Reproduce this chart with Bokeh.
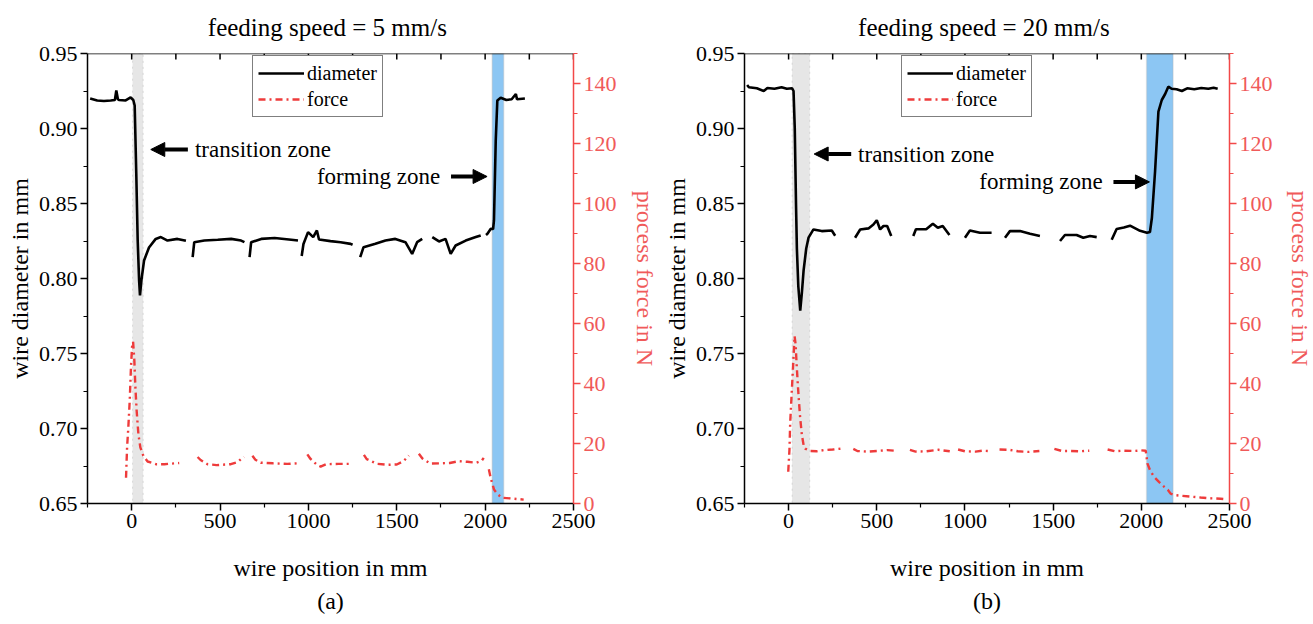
import numpy as np
from bokeh.plotting import figure
from bokeh.models import (Range1d, LinearAxis, FixedTicker, PrintfTickFormatter, Span,
                          BoxAnnotation, Arrow, NormalHead, Label, Legend, LegendItem, Title)
from bokeh.layouts import row
from bokeh.embed import file_html
from bokeh.resources import INLINE

nan = float("nan")

# ---------------- data: feeding speed = 5 mm/s ----------------
pos_d5 = [-235, -195, -157, -119, -95, -87, -78, -72, -34, -6, 9, 17, 26, 34, 42, 47, 55, 70, 98, 136,
          165, 203, 259, 307, nan, 345, 354, 411, 487, 563, 619, 638, nan, 667, 676, 733, 809, 903, 941,
          nan, 962, 972, 998, 1027, 1048, 1060, 1125, 1182, 1239, 1250, nan, 1293, 1312, 1379, 1436, 1492,
          1549, 1587, 1615, 1644, nan, 1701, 1739, 1776, 1805, 1833, 1890, 1947, 1975, nan, 2005, 2013,
          2032, 2045, 2050, 2060, 2069, 2088, 2120, 2150, 2174, 2180, 2225]
dia_5 = [0.9200, 0.9187, 0.9183, 0.9187, 0.9190, 0.9253, 0.9195, 0.9190, 0.9187, 0.9207, 0.9190, 0.9153,
         0.8698, 0.8253, 0.7987, 0.7887, 0.7987, 0.8120, 0.8207, 0.8264, 0.8276, 0.8253, 0.8264, 0.8251,
         nan, 0.8142, 0.8242, 0.8253, 0.8258, 0.8264, 0.8253, 0.8242, nan, 0.8142, 0.8242, 0.8264, 0.8270,
         0.8258, 0.8253, nan, 0.8150, 0.8230, 0.8309, 0.8276, 0.8320, 0.8260, 0.8249, 0.8242, 0.8231,
         0.8225, nan, 0.8142, 0.8209, 0.8231, 0.8253, 0.8264, 0.8242, 0.8164, 0.8242, 0.8264, nan, 0.8276,
         0.8247, 0.8264, 0.8164, 0.8220, 0.8253, 0.8276, 0.8287, nan, 0.8290, 0.8298, 0.8331, 0.8330,
         0.8387, 0.8920, 0.9187, 0.9205, 0.9190, 0.9195, 0.9230, 0.9195, 0.9200]
pos_f5 = [-32, -26, -19, -11, -4, 2, 8, 15, 21, 28, 38, 49, 66, 90, 137, 185, 269, nan,
          373, 390, 429, 480, 561, 600, 627, 636, nan, 683, 700, 730, 800, 880, 937, nan,
          994, 1010, 1050, 1069, 1100, 1170, 1239, nan, 1314, 1330, 1390, 1450, 1500, 1540, 1568, nan,
          1625, 1645, 1690, 1750, 1800, 1850, 1900, 1950, 1980, 1992, nan,
          2021, 2031, 2050, 2068, 2096, 2143, 2218]
force_5 = [8.6, 18.7, 25.4, 34.3, 45.5, 52.2, 53.9, 47.7, 38.8, 31.0, 23.1, 18.7, 15.9, 14.0, 13.1, 13.1, 13.5, nan,
           15.5, 14.5, 13.1, 12.8, 13.1, 13.8, 15.3, 15.5, nan, 15.9, 14.6, 13.6, 13.4, 13.2, 13.4, nan,
           16.4, 15.0, 12.8, 12.3, 13.1, 13.2, 13.2, nan, 16.2, 14.8, 13.2, 12.9, 13.0, 14.2, 16.0, nan,
           16.6, 15.0, 13.3, 13.4, 13.5, 14.1, 13.9, 13.6, 14.2, 15.2, nan,
           11.4, 8.6, 4.7, 3.2, 1.9, 1.7, 1.3]
transition_5 = [5, 65]
forming_5 = [2040, 2105]

# ---------------- data: feeding speed = 20 mm/s ----------------
pos_d20 = [-235, -225, -180, -141, -120, -80, -40, -10, 20, 28, 35, 42, 47, 55, 66, 75, 85, 100, 113, 141,
           188, 245, 264, nan, 377, 406, 453, 481, 500, 519, 538, 559, 582, nan, 707, 722, 780, 818, 846,
           874, 912, nan, 1000, 1028, 1085, 1151, nan, 1227, 1255, 1312, 1369, 1425, nan, 1539, 1567, 1633,
           1671, 1709, 1747, nan, 1832, 1860, 1901, 1936, 1993, 2032, 2049, 2060, 2078, 2097, 2116, 2135,
           2153, 2172, 2200, 2230, 2260, 2300, 2340, 2380, 2410, 2433]
dia_20 = [0.9290, 0.9275, 0.9268, 0.9250, 0.9270, 0.9265, 0.9275, 0.9265, 0.9268, 0.9250, 0.9000, 0.8500,
          0.8200, 0.7950, 0.7786, 0.7900, 0.8052, 0.8200, 0.8272, 0.8327, 0.8316, 0.8320, 0.8285, nan,
          0.8272, 0.8327, 0.8334, 0.8360, 0.8388, 0.8327, 0.8350, 0.8350, 0.8283, nan, 0.8283, 0.8328,
          0.8328, 0.8365, 0.8338, 0.8350, 0.8290, nan, 0.8272, 0.8320, 0.8305, 0.8305, nan, 0.8272, 0.8316,
          0.8316, 0.8298, 0.8283, nan, 0.8250, 0.8290, 0.8290, 0.8272, 0.8283, 0.8276, nan, 0.8258, 0.8330,
          0.8340, 0.8352, 0.8318, 0.8305, 0.8310, 0.8405, 0.8715, 0.9113, 0.9190, 0.9230, 0.9279, 0.9265,
          0.9262, 0.9250, 0.9268, 0.9262, 0.9270, 0.9265, 0.9272, 0.9265]
pos_f20 = [-2, 5, 9, 16, 23, 29, 34, 40, 45, 52, 57, 65, 75, 85, 94, 122, 160, 200, 250, 301, nan,
           367, 390, 450, 520, 560, 603, nan, 688, 720, 780, 850, 914, nan, 961, 1000, 1060, 1100, 1130, nan,
           1196, 1250, 1300, 1360, 1422, nan, 1507, 1550, 1600, 1650, 1705, nan,
           1809, 1850, 1900, 1960, 2000, 2025, 2035, 2050, 2072, 2100, 2129, 2150, 2166, 2190, 2223,
           2280, 2336, 2400, 2450, 2487]
force_20 = [10.6, 18.0, 26.7, 35.0, 43.0, 50.0, 55.8, 53.0, 47.0, 40.0, 35.5, 29.0, 23.0, 19.5, 18.3, 17.5,
            17.4, 17.8, 18.0, 18.3, nan, 18.2, 17.5, 17.3, 17.6, 17.8, 17.6, nan, 17.9, 17.3, 17.4, 17.9,
            17.4, nan, 18.0, 17.4, 17.3, 17.6, 17.5, nan, 18.0, 17.9, 17.4, 17.2, 17.5, nan, 18.2, 17.5,
            17.5, 17.4, 17.6, nan, 18.0, 17.4, 17.6, 17.5, 17.7, 17.6, 13.3, 11.0, 8.9, 7.2, 5.6, 4.6, 3.3,
            2.8, 2.6, 2.3, 2.0, 1.7, 1.6, 1.4]
transition_20 = [20, 120]
forming_20 = [2030, 2180]

x_ticks = [0, 500, 1000, 1500, 2000, 2500]
x_minor = [-250, 250, 750, 1250, 1750, 2250]
top_ticks = [0, 250, 500, 750, 1000, 1250, 1500, 1750, 2000, 2250, 2500]
y_ticks = [0.65, 0.70, 0.75, 0.80, 0.85, 0.90, 0.95]
y_minor = [0.675, 0.725, 0.775, 0.825, 0.875, 0.925]
f_ticks = [0, 20, 40, 60, 80, 100, 120, 140]
f_minor = [10, 30, 50, 70, 90, 110, 130, 150]

FONT = "'Liberation Serif', 'Times New Roman', serif"
RED_LINE = "#F24848"
RED_TXT = "#F05A5A"
FORCE_COL = "#EE3B3B"


def style_axis(ax, color, lab_color):
    ax.major_tick_out = 7
    ax.major_tick_in = 0
    ax.minor_tick_out = 4
    ax.minor_tick_in = 0
    ax.axis_line_width = 1.5
    ax.major_tick_line_width = 1.5
    ax.minor_tick_line_width = 1.2
    ax.axis_line_color = color
    ax.major_tick_line_color = color
    ax.minor_tick_line_color = color
    ax.major_label_text_font = FONT
    ax.major_label_text_font_size = "22px"
    ax.major_label_text_color = lab_color
    ax.axis_label_text_font = FONT
    ax.axis_label_text_font_size = "24px"
    ax.axis_label_text_font_style = "normal"
    ax.axis_label_text_color = lab_color
    ax.major_label_standoff = 3


def panel(title, tag, xd, yd, xf, yf, trans, form, fw, mbl, mbr, r_standoff,
          legend_loc, arrow1, text1, arrow2, text2):
    p = figure(frame_width=fw, frame_height=450, x_range=Range1d(-250, 2500),
               y_range=Range1d(0.65, 0.95), output_backend="svg", toolbar_location=None,
               min_border_left=mbl, min_border_right=mbr, min_border_top=53, min_border_bottom=0,
               background_fill_color="white", border_fill_color="white")
    p.outline_line_color = None
    p.xgrid.visible = False
    p.ygrid.visible = False
    p.extra_y_ranges = {"force": Range1d(0, 150)}

    p.title.text = title
    p.title.align = "center"
    p.title.vertical_align = "top"
    p.title.text_font = FONT
    p.title.text_font_size = "25px"
    p.title.text_font_style = "normal"
    p.title.text_color = "black"
    p.title.standoff = 21

    # bands
    p.add_layout(BoxAnnotation(left=trans[0], right=trans[1], fill_color="#E6E6E6", fill_alpha=1,
                               line_color="#9A9A9A", line_dash="dotted", line_width=1, level="underlay"))
    p.add_layout(BoxAnnotation(left=form[0], right=form[1], fill_color="#8CC6F3", fill_alpha=1,
                               line_color="#B4B4B4", line_width=1.5, level="underlay"))

    r1 = p.line(np.array(xd, dtype=float), np.array(yd, dtype=float), color="black", line_width=2.6)
    r2 = p.line(np.array(xf, dtype=float), np.array(yf, dtype=float), y_range_name="force",
                color=FORCE_COL, line_width=2.4, line_dash="7 4 2 4")

    # top frame line with inward ticks
    p.add_layout(Span(location=0.95, dimension="width", line_color="black", line_width=1.5))
    p.segment(x0=top_ticks, y0=[0.95] * len(top_ticks), x1=top_ticks,
              y1=[0.95 - 0.004] * len(top_ticks), line_color="black", line_width=1.5)

    # axes
    xa = p.xaxis[0]
    xa.ticker = FixedTicker(ticks=x_ticks, minor_ticks=x_minor)
    xa.axis_label = "wire position in mm"
    ya = p.yaxis[0]
    ya.ticker = FixedTicker(ticks=y_ticks, minor_ticks=y_minor)
    ya.formatter = PrintfTickFormatter(format="%.2f")
    ya.axis_label = "wire diameter in mm"
    style_axis(xa, "black", "black")
    style_axis(ya, "black", "black")
    ya.axis_label_standoff = 3
    xa.axis_label_standoff = 24

    ra = LinearAxis(y_range_name="force", ticker=FixedTicker(ticks=f_ticks, minor_ticks=f_minor),
                    axis_label="process force in N")
    style_axis(ra, RED_LINE, RED_TXT)
    ra.axis_label_standoff = r_standoff
    p.add_layout(ra, "right")

    sub = Title(text=tag, align="center", text_font=FONT, text_font_size="24px",
                text_font_style="normal", text_color="black", standoff=5)
    p.add_layout(sub, "below")

    # annotations
    p.add_layout(Arrow(end=NormalHead(size=14, fill_color="black", line_color="black"),
                       x_start=arrow1[0], x_end=arrow1[1], y_start=arrow1[2], y_end=arrow1[2],
                       line_width=4, line_color="black"))
    p.add_layout(Label(x=text1[0], y=text1[1], text="transition  zone", text_baseline="middle",
                       text_align="left", text_font=FONT, text_font_size="23px", text_color="black"))
    p.add_layout(Arrow(end=NormalHead(size=14, fill_color="black", line_color="black"),
                       x_start=arrow2[0], x_end=arrow2[1], y_start=arrow2[2], y_end=arrow2[2],
                       line_width=4, line_color="black"))
    p.add_layout(Label(x=text2[0], y=text2[1], text="forming  zone", text_baseline="middle",
                       text_align="right", text_font=FONT, text_font_size="23px", text_color="black"))

    leg = Legend(items=[LegendItem(label="diameter", renderers=[r1]),
                        LegendItem(label="force", renderers=[r2])],
                 location=legend_loc, orientation="vertical")
    leg.label_text_font = FONT
    leg.label_text_font_size = "20px"
    leg.label_text_color = "black"
    leg.border_line_color = "black"
    leg.border_line_width = 1
    leg.background_fill_color = "white"
    leg.background_fill_alpha = 1
    leg.glyph_width = 46
    leg.glyph_height = 24
    leg.label_height = 24
    leg.label_standoff = 3
    leg.spacing = 2
    leg.padding = 5
    leg.margin = 0
    p.add_layout(leg)
    return p


p1 = panel("feeding  speed = 5 mm/s", "(a)", pos_d5, dia_5, pos_f5, force_5, transition_5, forming_5,
           486, 87, 84, 12, (165, 386),
           (318, 108, 0.886), (358, 0.886), (1807, 2011, 0.868), (1778, 0.868))
p2 = panel("feeding  speed = 20 mm/s", "(b)", pos_d20, dia_20, pos_f20, force_20, transition_20, forming_20,
           485, 83, 82, 11, (157, 386),
           (355, 145, 0.883), (394, 0.883), (1842, 2046, 0.8644), (1813, 0.8644))

layout = row(p1, p2)
open("out.html", "w").write(file_html(layout, INLINE))
